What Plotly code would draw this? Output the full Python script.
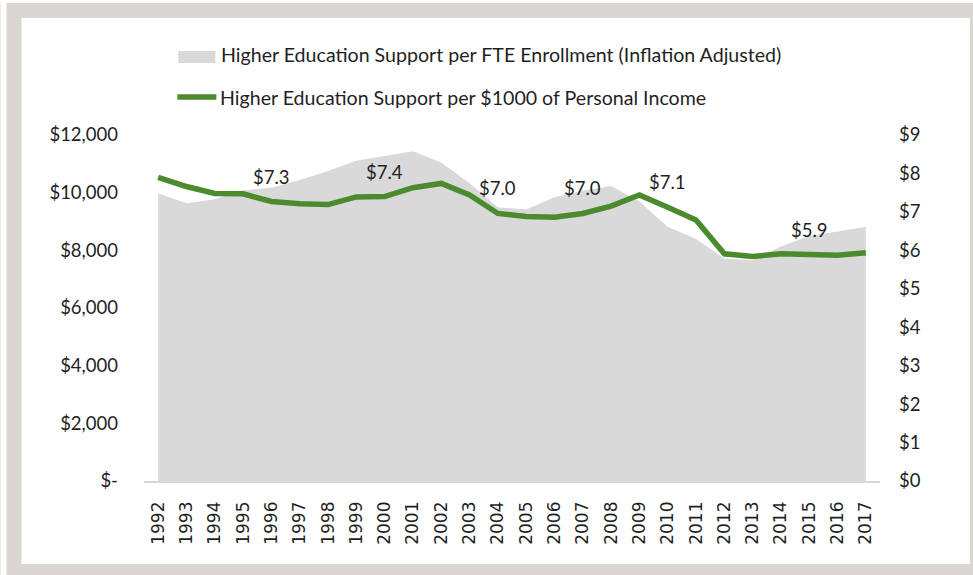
import plotly.graph_objects as go

years = list(range(1992, 2018))
support_per_fte = [9980, 9630, 9770, 10080, 10170, 10440, 10750, 11110, 11270, 11440,
                   11050, 10330, 9490, 9420, 9840, 10070, 10230, 9690, 8820, 8390,
                   7720, 7660, 8130, 8500, 8650, 8820]
support_per_1000 = [7.90, 7.66, 7.48, 7.47, 7.27, 7.21, 7.19, 7.39, 7.40, 7.63,
                    7.74, 7.44, 6.96, 6.88, 6.86, 6.96, 7.15, 7.44, 7.12, 6.79,
                    5.91, 5.84, 5.91, 5.88, 5.87, 5.94]
label_years = [1996, 2000, 2004, 2007, 2010, 2015]

left_ticks = [0, 2000, 4000, 6000, 8000, 10000, 12000]
left_ticktext = ["$-", "$2,000", "$4,000", "$6,000", "$8,000", "$10,000", "$12,000"]

legend_names = ["Higher Education Support per FTE Enrollment (Inflation Adjusted)",
                "Higher Education Support per $1000 of Personal Income"]

GREEN = "#4B8B2E"
AREA = "#D9D9D9"
FRAME = "#DAD7D3"
FONT = "Lato"
TXT = "#1F1F1F"

W, H = 973, 575
L, R, T, B = 143.6, 880.0, 135.0, 481.0


def px(x):
    return (x - L) / (R - L)


def py(y):
    return (B - y) / (B - T)


fig = go.Figure()
fig.add_trace(go.Scatter(
    x=years, y=support_per_fte, mode="lines", fill="tozeroy",
    fillcolor=AREA, line=dict(width=0, color=AREA),
    name=legend_names[0], showlegend=False, hoverinfo="x+y"))
fig.add_trace(go.Scatter(
    x=years, y=support_per_1000, mode="lines", yaxis="y2",
    line=dict(width=5.5, color=GREEN),
    name=legend_names[1], showlegend=False))

annotations = []
for yr in label_years:
    v = support_per_1000[years.index(yr)]
    annotations.append(dict(
        x=yr, y=v, xref="x", yref="y2", text=f"${v:.1f}", showarrow=False,
        yshift=25, font=dict(family=FONT, size=18.5, color=TXT)))

# custom legend
annotations.append(dict(x=px(219), y=py(55), xref="paper", yref="paper",
                        text=legend_names[0], showarrow=False, xanchor="left",
                        yanchor="middle", font=dict(family=FONT, size=19.6, color=TXT)))
annotations.append(dict(x=px(218), y=py(97), xref="paper", yref="paper",
                        text=legend_names[1], showarrow=False, xanchor="left",
                        yanchor="middle", font=dict(family=FONT, size=19.6, color=TXT)))

shapes = [
    # white panel
    dict(type="rect", xref="paper", yref="paper", x0=px(21), x1=px(970),
         y0=py(564), y1=py(18), fillcolor="white", line=dict(width=0), layer="below"),
    # outer white strips
    dict(type="rect", xref="paper", yref="paper", x0=px(0), x1=px(6),
         y0=py(575), y1=py(0), fillcolor="white", line=dict(width=0), layer="below"),
    dict(type="rect", xref="paper", yref="paper", x0=px(0), x1=px(973),
         y0=py(3), y1=py(0), fillcolor="white", line=dict(width=0), layer="below"),
    # legend swatches
    dict(type="rect", xref="paper", yref="paper", x0=px(178), x1=px(215),
         y0=py(63), y1=py(51), fillcolor=AREA, line=dict(width=0), layer="above"),
    dict(type="line", xref="paper", yref="paper", x0=px(177), x1=px(216),
         y0=py(97), y1=py(97), line=dict(color=GREEN, width=5.5), layer="above"),
]

fig.update_layout(
    width=W, height=H,
    margin=dict(l=L, r=W - R, t=T, b=H - B, pad=0),
    paper_bgcolor=FRAME, plot_bgcolor="white",
    showlegend=False,
    annotations=annotations, shapes=shapes,
    font=dict(family=FONT, size=18.5, color=TXT),
    xaxis=dict(range=[1991.5, 2017.5], tickvals=years, ticktext=[str(y) for y in years],
               tickangle=-90, showgrid=False, zeroline=False, showline=True,
               linecolor=AREA, linewidth=1.5, ticks="", ticklabelstandoff=12,
               tickfont=dict(family="DejaVu Sans", size=17, color=TXT)),
    yaxis=dict(range=[0, 12000], tickvals=left_ticks, ticktext=left_ticktext,
               showgrid=False, zeroline=False, showline=False, ticks="",
               ticklabelstandoff=25, tickfont=dict(family=FONT, size=18.5, color=TXT)),
    yaxis2=dict(range=[0, 9], dtick=1, tick0=0, tickprefix="$", overlaying="y",
                side="right", showgrid=False, zeroline=False, showline=False,
                ticks="", ticklabelstandoff=18,
                tickfont=dict(family=FONT, size=18.5, color=TXT)),
)

fig.write_html("out.html", config={"displayModeBar": False},
               post_script="document.body.style.margin='0';document.body.style.overflow='hidden';")
